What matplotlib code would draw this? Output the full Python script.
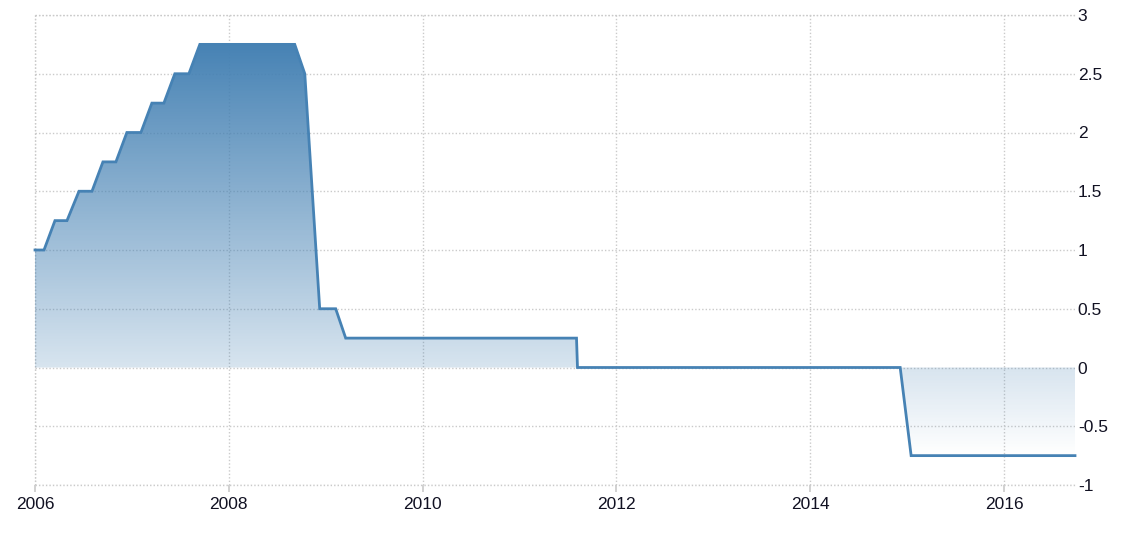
import numpy as np
import matplotlib
matplotlib.use("Agg")
import matplotlib.pyplot as plt
from matplotlib.colors import LinearSegmentedColormap
from matplotlib.path import Path

# policy rate, vertices (decimal years)
years = [2006.0, 2006.093, 2006.206, 2006.330, 2006.454, 2006.588, 2006.701,
         2006.835, 2006.948, 2007.093, 2007.206, 2007.330, 2007.443, 2007.588,
         2007.701, 2008.680, 2008.784, 2008.938, 2009.103, 2009.206, 2011.588,
         2011.598, 2014.928, 2015.041, 2016.732]
rates = [1.0, 1.0, 1.25, 1.25, 1.5, 1.5, 1.75,
         1.75, 2.0, 2.0, 2.25, 2.25, 2.5, 2.5,
         2.75, 2.75, 2.5, 0.5, 0.5, 0.25, 0.25,
         0.0, 0.0, -0.75, -0.75]
xticks = [2006, 2008, 2010, 2012, 2014, 2016]
yticks = [-1, -0.5, 0, 0.5, 1, 1.5, 2, 2.5, 3]
ytick_labels = ["-1", "-0.5", "0", "0.5", "1", "1.5", "2", "2.5", "3"]

line_color = "#4682b4"
grid_color = "#cacaca"
text_color = "#111122"
dots = (0, (1, 1.5))

plt.rcParams["font.family"] = ["Liberation Sans", "DejaVu Sans"]

fig = plt.figure(figsize=(11.3, 5.43), dpi=100)
ax = fig.add_axes([35 / 1130, 1 - 485 / 543, (1075 - 35) / 1130, 470 / 543])

xmin, xmax = years[0], years[-1]
ymin, ymax = -1, 3

# gradient fill between the line and zero
cmap = LinearSegmentedColormap.from_list(
    "grad", [(0.275, 0.51, 0.706, 0.0), (0.275, 0.51, 0.706, 1.0)])
grad = np.linspace(0, 1, 256).reshape(-1, 1)
img = ax.imshow(grad, cmap=cmap, origin="lower", aspect="auto",
                extent=[xmin, xmax, min(rates), max(rates)], zorder=1,
                interpolation="bilinear")
verts = [(xmin, 0)] + list(zip(years, rates)) + [(xmax, 0), (xmin, 0)]
clip = Path(verts, closed=True)
img.set_clip_path(clip, transform=ax.transData)

ax.plot(years, rates, color=line_color, linewidth=2.0, zorder=3,
        solid_joinstyle="miter", clip_on=False)

ax.set_xlim(xmin, xmax)
ax.set_ylim(ymin, ymax)

for s in ax.spines.values():
    s.set_visible(False)

ax.set_xticks(xticks)
ax.set_xticklabels([str(t) for t in xticks])
ax.set_yticks(yticks)
ax.set_yticklabels(ytick_labels)
ax.yaxis.tick_right()
ax.tick_params(axis="y", length=0, pad=2, labelsize=12.5, labelcolor=text_color)
ax.tick_params(axis="x", length=5, width=1.2, color=grid_color, pad=3.5,
               labelsize=12.5, labelcolor=text_color)

ax.grid(True, linestyle=dots, color=grid_color, linewidth=1, zorder=0)
ax.axvline(xmin, linestyle=dots, color=grid_color, linewidth=1, zorder=0,
           clip_on=False)
ax.axhline(ymin, linestyle=dots, color=grid_color, linewidth=1, zorder=0,
           clip_on=False)
ax.axhline(ymax, linestyle=dots, color=grid_color, linewidth=1, zorder=0,
           clip_on=False)
ax.set_axisbelow(True)

fig.savefig("out.png", dpi=100)
